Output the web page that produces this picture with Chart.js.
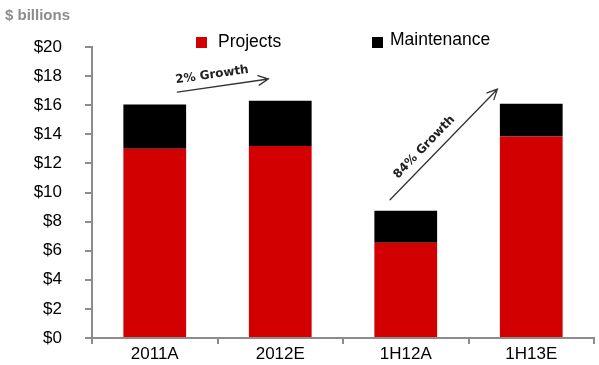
<!DOCTYPE html>
<html>
<head>
<meta charset="utf-8">
<script src="https://cdn.jsdelivr.net/npm/chart.js@4/dist/chart.umd.min.js"></script>
<style>
  html, body { margin: 0; padding: 0; background: #fff; }
  #wrap { width: 599px; height: 365px; }
</style>
</head>
<body>
<div id="wrap"><canvas id="c" width="599" height="365"></canvas></div>
<script>
// Spend by period, $ billions
const categories = ['2011A', '2012E', '1H12A', '1H13E'];
const projects = [13.0, 13.2, 6.55, 13.85];
const maintenance = [3.05, 3.1, 2.2, 2.25];
const seriesNames = ['Projects', 'Maintenance'];
const unitLabel = '$ billions';
const growthLabels = ['2% Growth', '84% Growth'];

const RED = '#d20000';
const BLACK = '#000000';
const AXIS = '#8c8c8c';
const FONT = "'Liberation Sans', Arial, sans-serif";

// Hand-drawn style growth arrows, anchored to the data scales
function drawArrow(ctx, x1, y1, x2, y2) {
  const ang = Math.atan2(y2 - y1, x2 - x1);
  const head = 11;
  ctx.beginPath();
  ctx.moveTo(x1, y1);
  ctx.lineTo(x2, y2);
  ctx.moveTo(x2 - head * Math.cos(ang - 0.45), y2 - head * Math.sin(ang - 0.45));
  ctx.lineTo(x2, y2);
  ctx.lineTo(x2 - head * Math.cos(ang + 0.45), y2 - head * Math.sin(ang + 0.45));
  ctx.stroke();
}

const overlay = {
  id: 'overlay',
  afterDatasetsDraw(chart) {
    const { ctx, scales: { x, y } } = chart;
    const X = v => {
      const i = Math.floor(v), f = v - i;
      const a = x.getPixelForValue(i), b = x.getPixelForValue(i + 1);
      return a + (b - a) * f;
    };
    ctx.save();
    ctx.strokeStyle = '#333';
    ctx.lineWidth = 1.3;
    ctx.lineCap = 'round';

    // 2011A -> 2012E
    const a1 = [X(0.18), y.getPixelForValue(16.9), X(0.905), y.getPixelForValue(17.8)];
    drawArrow(ctx, ...a1);
    // 1H12A -> 1H13E
    const a2 = [X(1.875), y.getPixelForValue(9.5), X(2.73), y.getPixelForValue(17.1)];
    drawArrow(ctx, ...a2);

    ctx.fillStyle = '#222';
    ctx.font = "bold 12px 'DejaVu Sans', sans-serif";
    ctx.textAlign = 'center';
    ctx.textBaseline = 'middle';
    const label = (text, ax, dist) => {
      const ang = Math.atan2(ax[3] - ax[1], ax[2] - ax[0]);
      const mx = ax[0] + (ax[2] - ax[0]) * 0.4;
      const my = ax[1] + (ax[3] - ax[1]) * 0.4;
      const nx = Math.sin(ang) * dist, ny = -Math.cos(ang) * dist;
      ctx.save();
      ctx.translate(mx + nx, my + ny);
      ctx.rotate(ang);
      ctx.fillText(text, 0, 0);
      ctx.restore();
    };
    label(growthLabels[0], a1, 12);
    label(growthLabels[1], a2, 12);
    ctx.restore();
  },
  afterDraw(chart) {
    const { ctx } = chart;
    ctx.save();
    // unit caption
    ctx.fillStyle = '#8c8c8c';
    ctx.font = 'bold 15px ' + FONT;
    ctx.textBaseline = 'alphabetic';
    ctx.textAlign = 'left';
    ctx.fillText(unitLabel, 5, 20);

    // legend
    const items = [
      { name: seriesNames[0], color: RED, bx: 196, by: 37, tx: 218, ty: 47 },
      { name: seriesNames[1], color: BLACK, bx: 372, by: 37, tx: 390, ty: 45 }
    ];
    ctx.font = '17.5px ' + FONT;
    items.forEach(it => {
      ctx.fillStyle = it.color;
      ctx.fillRect(it.bx, it.by, 11, 11);
      ctx.fillStyle = '#000';
      ctx.fillText(it.name, it.tx, it.ty);
    });
    ctx.restore();
  }
};

new Chart(document.getElementById('c'), {
  type: 'bar',
  data: {
    labels: categories,
    datasets: [
      { label: seriesNames[0], data: projects, backgroundColor: RED, barPercentage: 0.5, categoryPercentage: 1.0 },
      { label: seriesNames[1], data: maintenance, backgroundColor: BLACK, barPercentage: 0.5, categoryPercentage: 1.0 }
    ]
  },
  options: {
    responsive: false,
    animation: false,
    devicePixelRatio: 1,
    layout: { padding: { top: 47, right: 5, left: 0, bottom: 0 } },
    plugins: { legend: { display: false }, tooltip: { enabled: false } },
    scales: {
      x: {
        stacked: true,
        border: { color: AXIS, width: 2 },
        grid: { offset: true, drawOnChartArea: false, drawTicks: true, tickLength: 6, color: AXIS, lineWidth: 2 },
        ticks: { color: '#000', font: { family: FONT, size: 17 }, padding: 0, maxRotation: 0 },
        afterFit(scale) { scale.height = 27; }
      },
      y: {
        stacked: true,
        min: 0,
        max: 20,
        border: { color: AXIS, width: 2 },
        grid: { drawOnChartArea: false, drawTicks: true, tickLength: 7, color: AXIS, lineWidth: 2 },
        ticks: {
          stepSize: 2,
          color: '#000',
          font: { family: FONT, size: 17 },
          padding: 23,
          callback: v => '$' + v
        },
        afterFit(scale) {
          scale.width = 92;
          scale.paddingTop = 0;
          scale.paddingBottom = 0;
        }
      }
    }
  },
  plugins: [overlay]
});
</script>
</body>
</html>
